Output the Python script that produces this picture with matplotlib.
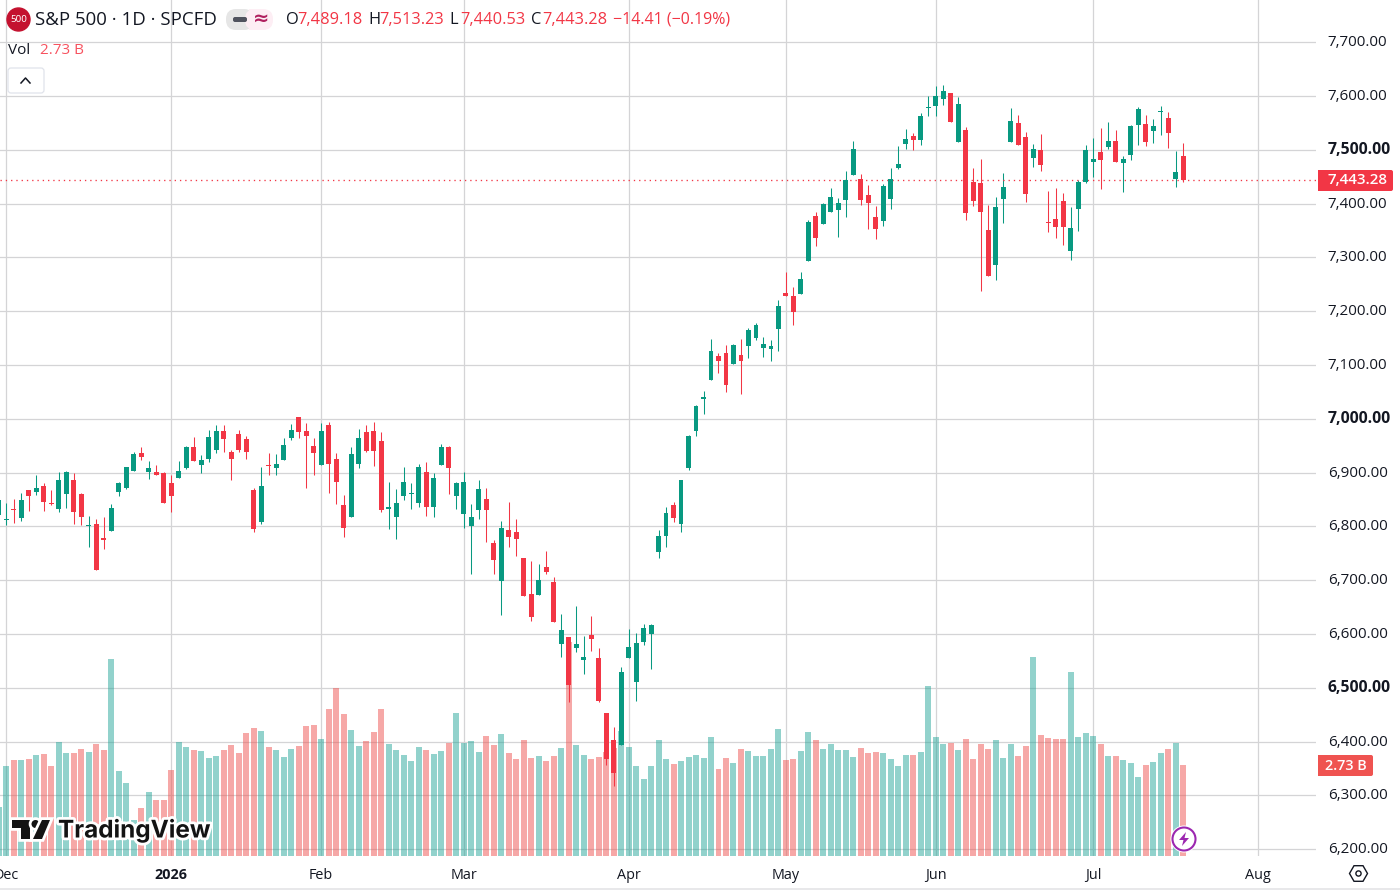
import matplotlib
matplotlib.use("Agg")
import matplotlib.pyplot as plt
import matplotlib.patheffects as pe
from matplotlib.patches import Circle, FancyBboxPatch, Polygon, Rectangle, RegularPolygon
from matplotlib.transforms import ScaledTranslation

plt.rcParams['font.family'] = ['Open Sans', 'DejaVu Sans']

# daily candles
opens = [6822, 6812, 6831, 6815, 6867, 6865, 6876, 6843, 6833, 6861, 6887, 6861, 6800, 6804, 6779, 6792,
         6865, 6872, 6904, 6937, 6902, 6902, 6900, 6880, 6891, 6908, 6947, 6915, 6926, 6943, 6978, 6939,
         6971, 6962, 6867, 6809, 6915, 6908, 6923, 6965, 7003, 6978, 6949, 6915, 6988, 6926, 6839, 6817,
         6917, 6976, 6978, 6958, 6833, 6818, 6856, 6861, 6843, 6902, 6837, 6915, 6947, 6856, 6824, 6800,
         6831, 6852, 6770, 6699, 6794, 6790, 6742, 6675, 6673, 6724, 6697, 6582, 6595, 6575, 6551, 6599,
         6556, 6453, 6403, 6394, 6555, 6511, 6585, 6600, 6752, 6782, 6840, 6804, 6908, 6977, 7037, 7072,
         7117, 7122, 7102, 7118, 7135, 7150, 7132, 7130, 7167, 7234, 7228, 7232, 7293, 7377, 7362, 7384,
         7388, 7407, 7453, 7446, 7416, 7375, 7368, 7409, 7466, 7511, 7526, 7518, 7578, 7582, 7595, 7606,
         7515, 7537, 7440, 7438, 7351, 7286, 7409, 7515, 7550, 7524, 7485, 7500, 7366, 7371, 7405, 7312,
         7390, 7440, 7477, 7496, 7505, 7517, 7476, 7490, 7546, 7548, 7535, 7570, 7559, 7446, 7489.18]
highs = [6850, 6844, 6852, 6863, 6867, 6896, 6880, 6867, 6902, 6904, 6900, 6863, 6820, 6813, 6817, 6841,
         6883, 6911, 6939, 6947, 6921, 6915, 6902, 6896, 6921, 6950, 6967, 6932, 6980, 6988, 6988, 6943,
         6980, 6969, 6872, 6911, 6936, 6934, 6965, 6990, 7004, 6993, 6965, 6993, 6995, 6937, 6859, 6947,
         6982, 6988, 6995, 6975, 6883, 6869, 6910, 6880, 6917, 6919, 6900, 6954, 6949, 6883, 6902, 6841,
         6887, 6872, 6774, 6811, 6846, 6813, 6742, 6735, 6731, 6755, 6707, 6638, 6595, 6653, 6597, 6634,
         6575, 6453, 6427, 6539, 6610, 6602, 6619, 6619, 6793, 6836, 6845, 6886, 6970, 7025, 7052, 7148,
         7122, 7137, 7139, 7148, 7169, 7178, 7152, 7146, 7221, 7273, 7245, 7273, 7370, 7384, 7401, 7429,
         7411, 7461, 7517, 7455, 7435, 7396, 7437, 7466, 7507, 7539, 7531, 7569, 7600, 7619, 7621, 7606,
         7598, 7543, 7466, 7483, 7397, 7412, 7457, 7578, 7565, 7533, 7511, 7530, 7424, 7429, 7420, 7394,
         7444, 7509, 7522, 7541, 7552, 7537, 7489, 7546, 7580, 7565, 7557, 7582, 7570, 7498, 7513.23]
lows = [6822, 6802, 6807, 6811, 6828, 6859, 6828, 6839, 6826, 6835, 6804, 6802, 6761, 6720, 6759, 6792,
        6857, 6870, 6904, 6923, 6889, 6895, 6844, 6826, 6891, 6906, 6921, 6900, 6919, 6936, 6939, 6887,
        6939, 6926, 6790, 6805, 6895, 6896, 6923, 6960, 6965, 6872, 6895, 6915, 6863, 6841, 6781, 6817,
        6908, 6939, 6913, 6826, 6796, 6777, 6850, 6833, 6837, 6820, 6817, 6915, 6861, 6833, 6798, 6712,
        6813, 6772, 6712, 6636, 6761, 6746, 6671, 6625, 6673, 6712, 6623, 6558, 6474, 6567, 6526, 6569,
        6474, 6357, 6317, 6394, 6555, 6476, 6580, 6535, 6741, 6761, 6808, 6789, 6905, 6968, 7009, 7072,
        7085, 7050, 7102, 7046, 7113, 7146, 7115, 7107, 7126, 7228, 7174, 7232, 7293, 7321, 7362, 7384,
        7338, 7375, 7453, 7397, 7353, 7334, 7358, 7390, 7464, 7502, 7500, 7509, 7563, 7563, 7583, 7552,
        7515, 7370, 7396, 7238, 7265, 7258, 7364, 7515, 7509, 7403, 7468, 7461, 7347, 7336, 7323, 7295,
        7349, 7438, 7450, 7427, 7502, 7477, 7422, 7481, 7509, 7507, 7513, 7528, 7504, 7431, 7440.53]
closes = [6850, 6813, 6830, 6850, 6856, 6872, 6846, 6841, 6887, 6902, 6826, 6817, 6802, 6720, 6774, 6835,
          6880, 6911, 6934, 6930, 6908, 6895, 6844, 6857, 6904, 6947, 6921, 6923, 6967, 6978, 6963, 6926,
          6943, 6939, 6796, 6876, 6913, 6917, 6952, 6980, 6976, 6969, 6937, 6978, 6917, 6882, 6798, 6934,
          6965, 6941, 6941, 6831, 6837, 6844, 6882, 6863, 6911, 6837, 6891, 6947, 6908, 6880, 6883, 6818,
          6870, 6830, 6738, 6798, 6781, 6776, 6671, 6631, 6701, 6716, 6623, 6608, 6506, 6582, 6558, 6591,
          6476, 6368, 6342, 6530, 6576, 6583, 6611, 6617, 6782, 6825, 6815, 6886, 6968, 7024, 7040, 7126,
          7107, 7063, 7137, 7107, 7165, 7174, 7139, 7135, 7210, 7228, 7198, 7260, 7366, 7336, 7399, 7412,
          7401, 7444, 7502, 7407, 7401, 7353, 7433, 7446, 7474, 7520, 7518, 7563, 7580, 7600, 7610, 7552,
          7585, 7383, 7405, 7384, 7265, 7394, 7431, 7554, 7509, 7418, 7502, 7472, 7364, 7357, 7357, 7355,
          7440, 7500, 7483, 7481, 7517, 7477, 7483, 7544, 7576, 7515, 7544, 7572, 7531, 7459, 7443.28]

# volume in billions
volumes = [1.48, 2.70, 2.88, 2.88, 2.91, 3.03, 3.06, 2.70, 3.42, 3.09, 3.09, 3.21, 3.12, 3.36, 3.18, 5.91,
           2.55, 2.19, 1.08, 1.44, 1.92, 1.68, 1.68, 2.58, 3.42, 3.27, 3.18, 3.15, 2.94, 3.00, 3.18, 3.33,
           3.09, 3.69, 3.84, 3.75, 3.27, 3.18, 2.97, 3.21, 3.30, 3.90, 3.93, 3.51, 4.41, 5.04, 4.26, 3.78,
           3.30, 3.45, 3.72, 4.41, 3.36, 3.18,
           3.03, 2.85, 3.27, 3.18, 3.06, 3.15, 3.39, 4.29, 3.39, 3.45, 3.12, 3.60, 3.33, 3.66, 3.09, 2.91,
           3.48, 2.94, 3.00, 2.85, 3.00, 3.24, 6.42, 3.33, 3.03, 2.91, 2.97, 3.12, 3.24, 3.75, 3.27, 2.70,
           2.31, 2.70, 3.48, 2.91, 2.76, 2.85, 2.97, 3.03, 2.94, 3.57, 2.61, 2.94, 2.79, 3.21, 3.15, 3.00,
           3.00, 3.21, 3.81, 2.88, 2.91, 3.15,
           3.72, 3.48, 3.21, 3.36, 3.18, 3.18, 2.97, 3.24, 3.09, 3.12, 3.09, 2.91, 2.70, 3.03, 3.03, 3.12,
           5.10, 3.57, 3.36, 3.39, 3.18, 3.51, 2.91, 3.36, 3.21, 3.48, 2.94, 3.36, 3.00, 3.30, 5.97, 3.63,
           3.54, 3.51, 3.51, 5.52, 3.57, 3.69, 3.60, 3.36, 3.00, 3.00, 2.88, 2.79, 2.37, 2.73, 2.82, 3.09,
           3.21, 3.39, 2.73]

month_bars = [1, 23, 43, 62, 84, 105, 125, 146, 168]
month_labels = ["Dec", "2026", "Feb", "Mar", "Apr", "May", "Jun", "Jul", "Aug"]
price_ticks = [6200, 6300, 6400, 6500, 6600, 6700, 6800, 6900, 7000, 7100, 7200, 7300, 7400, 7500, 7600, 7700]

UP = "#089981"
DOWN = "#f23645"
VOL_UP = "#26a69a"
VOL_DOWN = "#ef5350"
GRID = "#d4d4d6"
TEXT = "#131722"
last_close = closes[-1]

fig = plt.figure(figsize=(14, 8.92), dpi=100, facecolor="white")
ax = fig.add_axes([0, 1 - 856 / 892, 1316 / 1400, 856 / 892])
ax.set_xlim(0.16, 175.7)
ax.set_ylim(6187.5, 7778.6)
for side in ax.spines.values():
    side.set_visible(False)

ax.set_yticks(price_ticks)
ax.set_yticklabels([f"{p:,.2f}" for p in price_ticks])
ax.yaxis.tick_right()
ax.tick_params(axis="y", length=0, pad=8.5, labelsize=10.9, labelcolor=TEXT)
nudge_up = ScaledTranslation(0, 1.5 / 100, fig.dpi_scale_trans)
for label, p in zip(ax.get_yticklabels(), price_ticks):
    label.set_transform(label.get_transform() + nudge_up)
    if p % 500 == 0:
        label.set_fontweight("bold")
        label.set_fontsize(11.3)

ax.set_xticks(month_bars)
ax.set_xticklabels(month_labels)
ax.tick_params(axis="x", length=0, pad=8.5, labelsize=10.4, labelcolor=TEXT)
ax.get_xticklabels()[1].set_fontweight("bold")

ax.grid(True, color=GRID, linewidth=0.9)
ax.set_axisbelow(True)

bars = list(range(len(closes)))
is_up = [c >= o for o, c in zip(opens, closes)]

# volume pane sits on the same axes, its scale is 25.68 B for the full height
vol_trans = ax.get_xaxis_transform()
ax.bar(bars, [v / 25.68 for v in volumes], width=0.8, linewidth=0, alpha=0.5, zorder=2,
       color=[VOL_UP if u else VOL_DOWN for u in is_up], transform=vol_trans)

candle_colors = [UP if u else DOWN for u in is_up]
ax.vlines(bars, lows, highs, colors=candle_colors, linewidth=0.75, zorder=3)
body_low = [min(o, c) for o, c in zip(opens, closes)]
body_h = [max(abs(c - o), 1.9) for o, c in zip(opens, closes)]
ax.bar(bars, body_h, bottom=body_low, width=0.66, color=candle_colors, linewidth=0, zorder=4)

ax.axhline(last_close, color=DOWN, linewidth=0.95, linestyle=(0, (1, 3)), zorder=3)

# everything around the chart is placed in screen pixels
ui = fig.add_axes([0, 0, 1, 1], zorder=5)
ui.set_xlim(0, 1400)
ui.set_ylim(892, 0)
ui.axis("off")

ui.add_patch(Circle((18.5, 19.5), 11.5, color="#c4122f"))
ui.text(18.5, 19.5, "500", color="white", fontsize=7, ha="center", va="center", family="Noto Sans")
ui.text(35, 20, "S&P 500 · 1D · SPCFD", color=TEXT, fontsize=13.4, va="center")

ui.add_patch(FancyBboxPatch((226, 9), 28, 21, boxstyle="round,pad=0,rounding_size=10",
                            fc="#e6e6e6", ec="none"))
ui.add_patch(FancyBboxPatch((245, 9), 28, 21, boxstyle="round,pad=0,rounding_size=10",
                            fc="#fdeef4", ec="none"))
ui.add_patch(Rectangle((249, 9), 10, 21, fc="#fdeef4", ec="none"))
ui.add_patch(FancyBboxPatch((233, 17), 14, 5, boxstyle="round,pad=0,rounding_size=2", fc="#50535e", ec="none"))
ui.text(261.5, 18.5, "≈", color="#b0205f", fontsize=14, ha="center", va="center", fontweight="bold",
        family="DejaVu Sans")

ohlc = [(286, "O", 297, "7,489.18"), (368, "H", 379, "7,513.23"),
        (449, "L", 460, "7,440.53"), (531, "C", 542, "7,443.28")]
for x1, letter, x2, value in ohlc:
    ui.text(x1, 20, letter, color=TEXT, fontsize=11.8, va="center")
    ui.text(x2, 20, value, color=DOWN, fontsize=11.8, va="center")
ui.text(613, 20, "−14.41 (−0.19%)", color=DOWN, fontsize=11.5, va="center")

ui.text(8, 50, "Vol", color=TEXT, fontsize=11, va="center")
ui.text(40, 50, "2.73 B", color="#f7525f", fontsize=11, va="center")

ui.add_patch(FancyBboxPatch((8, 68), 36, 25, boxstyle="round,pad=0,rounding_size=3",
                            fc="white", ec="#e0e3eb", linewidth=0.9))
ui.plot([21, 25.5, 30], [83, 78, 83], color=TEXT, linewidth=1.1)

ui.add_patch(FancyBboxPatch((1318, 170), 75, 21, boxstyle="round,pad=0,rounding_size=2", fc=DOWN, ec="none"))
ui.add_patch(Rectangle((1318, 170), 4, 21, fc=DOWN, ec="none"))
ui.text(1358, 180.5, "7,443.28", color="white", fontsize=10.9, ha="center", va="center", fontweight="semibold")

ui.add_patch(FancyBboxPatch((1318, 755), 55, 21, boxstyle="round,pad=0,rounding_size=2", fc=VOL_DOWN, ec="none"))
ui.add_patch(Rectangle((1318, 755), 4, 21, fc=VOL_DOWN, ec="none"))
ui.text(1346, 765.5, "2.73 B", color="white", fontsize=10.4, ha="center", va="center", fontweight="semibold")

# TradingView mark
halo = [pe.withStroke(linewidth=4, foreground="white")]
logo_parts = [Polygon([(12, 820), (30, 820), (30, 839), (21, 839), (21, 828), (12, 828)]),
              Circle((35.5, 824), 4),
              Polygon([(42, 820), (50, 820), (42, 839), (33, 839)])]
for part in logo_parts:
    part.set(fc="#131313", ec="none", path_effects=halo)
    ui.add_patch(part)
ui.text(58, 830, "TradingView", color="#131313", fontsize=17.5, fontweight="bold", va="center",
        family="Inter", path_effects=halo)

# lightning badge on the last bar
ui.add_patch(Circle((1184, 839), 13.5, fc="white", ec="none"))
ui.add_patch(Circle((1184, 839), 11.5, fc="white", ec="#9c27b0", linewidth=1.5))
ui.add_patch(Polygon([(1186, 832), (1179, 840), (1183.5, 840), (1182, 846), (1189, 838), (1184.5, 838)],
                     fc="#9c27b0", ec="none"))

# settings hexagon
ui.add_patch(RegularPolygon((1358.5, 873.5), 6, radius=9, orientation=0.5236, fc="white", ec=TEXT, linewidth=1))
ui.add_patch(Circle((1358.5, 873.5), 2.6, fc="white", ec=TEXT, linewidth=1))

ui.plot([0, 1400], [888.5, 888.5], color="#e8e8ea", linewidth=1.4)

fig.savefig("out.png", dpi=100)
plt.close(fig)
